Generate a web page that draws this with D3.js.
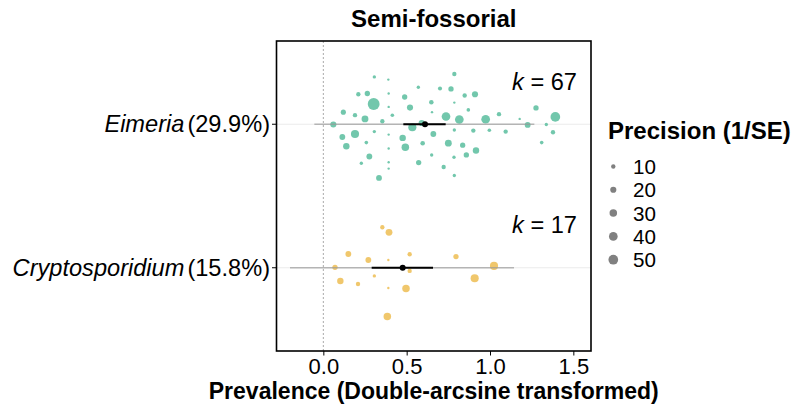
<!DOCTYPE html>
<html><head><meta charset="utf-8">
<script src="https://cdn.jsdelivr.net/npm/d3@7"></script>
<style>body{margin:0;background:#fff} svg{display:block} text{font-family:"Liberation Sans",Arial,sans-serif}</style>
</head><body><svg width="798" height="404"></svg>
<script>
// ---------- data ----------
const groups = ["Eimeria", "Cryptosporidium"];
const groupRow = [2, 1];
const pooledPct = ["29.9%", "15.8%"];
const kValues = [67, 17];
const estimate = [0.61, 0.476];
const ciLow = [0.48, 0.29];
const ciHigh = [0.734, 0.658];
const piLow = [-0.054, -0.2];
const piHigh = [1.266, 1.144];
const groupColors = ["#66c2a5", "#efc25f"];

const eimeriaX = [0.306,0.39,0.786,0.57,0.70,0.766,0.21,0.264,0.392,0.488,0.848,0.91,0.302,0.648,0.786,0.52,0.392,0.12,0.87,0.652,0.19,0.414,0.25,0.354,0.736,0.816,0.974,1.054,1.276,1.392,1.178,0.06,0.534,0.59,1.226,1.338,0.306,0.19,0.114,0.392,0.66,0.786,0.9,0.996,1.094,1.378,0.476,0.258,0.596,0.75,1.31,0.138,0.492,0.392,0.836,0.916,0.276,0.65,0.784,0.858,0.228,0.392,0.572,0.392,0.722,0.334,0.786];
const eimeriaJitter = [0.33,0.311,0.35,0.258,0.249,0.246,0.209,0.214,0.214,0.19,0.2,0.209,0.141,0.153,0.151,0.116,0.121,0.084,0.1,0.084,0.063,0.063,0.037,0.021,0.054,0.033,0.035,0.07,0.114,0.051,0.037,-0.002,-0.021,0.009,-0.005,-0.002,-0.051,-0.068,-0.089,-0.072,-0.068,-0.04,-0.044,-0.042,-0.051,-0.056,-0.095,-0.128,-0.132,-0.132,-0.128,-0.153,-0.16,-0.169,-0.146,-0.183,-0.225,-0.214,-0.23,-0.214,-0.272,-0.265,-0.267,-0.309,-0.298,-0.374,-0.357];
const eimeriaPrecision = [6,3,10,6,9,15,10,15,3,15,10,20,75,11,3,20,3,14,7,3,10,7,25,10,40,40,40,10,15,50,3,20,35,20,18,6,6,35,18,3,18,6,10,7,10,10,22,7,11,25,7,22,30,3,15,22,18,6,6,15,6,3,15,3,10,18,6];

const cryptoX = [0.354,0.394,0.15,0.27,0.39,0.518,0.796,0.07,1.024,0.518,0.102,0.208,0.306,0.39,0.496,0.908,0.384];
const cryptoJitter = [0.282,0.247,0.096,0.054,0.054,0.094,0.078,0.003,0.013,-0.022,-0.092,-0.113,-0.057,-0.141,-0.145,-0.073,-0.34];
const cryptoPrecision = [10,25,18,18,3,10,15,15,35,10,22,10,6,3,30,35,30];

const xTicks = [0, 0.5, 1.0, 1.5];
const legendValues = [10, 20, 30, 40, 50];

// ---------- layout ----------
const svg = d3.select("svg");
const L = 276.5, R = 591, T = 41, B = 351;
const x = d3.scaleLinear().domain([-0.281, 1.606]).range([L, R]);
const y = d3.scaleLinear().domain([0.42, 2.58]).range([B, T]);
const r = d3.scaleSqrt().domain([0, 50]).range([0, 4.85]);
const FS = 23.6, FSB = 24;

svg.append("rect").attr("width", 798).attr("height", 404).attr("fill", "#fff");

const points = [
  eimeriaX.map((v, i) => ({g: 0, x: v, j: eimeriaJitter[i], p: eimeriaPrecision[i]})),
  cryptoX.map((v, i) => ({g: 1, x: v, j: cryptoJitter[i], p: cryptoPrecision[i]}))
].flat();

const plot = svg.append("g");
// faint row lines
plot.selectAll(".rowline").data(groups).join("line")
  .attr("x1", L).attr("x2", R)
  .attr("y1", (d, i) => y(groupRow[i])).attr("y2", (d, i) => y(groupRow[i]))
  .attr("stroke", "#ebebeb").attr("stroke-width", 1);
// zero line
plot.append("line").attr("x1", x(0)).attr("x2", x(0)).attr("y1", T).attr("y2", B)
  .attr("stroke", "#aaaaaa").attr("stroke-width", 1).attr("stroke-dasharray", "2,2");
// dots
plot.selectAll(".dot").data(points).join("circle")
  .attr("cx", d => x(d.x)).attr("cy", d => y(groupRow[d.g] + d.j))
  .attr("r", d => r(d.p))
  .attr("fill", d => groupColors[d.g]).attr("fill-opacity", 0.92);
// prediction intervals
plot.selectAll(".pi").data(groups).join("line")
  .attr("x1", (d, i) => x(piLow[i])).attr("x2", (d, i) => x(piHigh[i]))
  .attr("y1", (d, i) => y(groupRow[i])).attr("y2", (d, i) => y(groupRow[i]))
  .attr("stroke", "#9a9a9a").attr("stroke-opacity", 0.7).attr("stroke-width", 1.5);
// confidence intervals
plot.selectAll(".ci").data(groups).join("line")
  .attr("x1", (d, i) => x(ciLow[i])).attr("x2", (d, i) => x(ciHigh[i]))
  .attr("y1", (d, i) => y(groupRow[i])).attr("y2", (d, i) => y(groupRow[i]))
  .attr("stroke", "#000").attr("stroke-width", 2.2);
plot.selectAll(".est").data(groups).join("circle")
  .attr("cx", (d, i) => x(estimate[i])).attr("cy", (d, i) => y(groupRow[i]))
  .attr("r", 3).attr("fill", "#000");
// k labels
groups.forEach((g, i) => {
  const t = svg.append("text").attr("x", x(1.522)).attr("y", y(groupRow[i] + 0.24))
    .attr("text-anchor", "end").attr("font-size", FS).attr("fill", "#000");
  t.append("tspan").attr("font-style", "italic").text("k");
  t.append("tspan").text(" = " + kValues[i]);
});
// panel border
svg.append("rect").attr("x", L).attr("y", T).attr("width", R - L).attr("height", B - T)
  .attr("fill", "none").attr("stroke", "#000").attr("stroke-width", 1.6);

// x axis
const xAxis = svg.append("g").attr("transform", `translate(0,${B})`)
  .call(d3.axisBottom(x).tickValues(xTicks).tickFormat(d3.format(".1f")).tickSize(4.5).tickPadding(6));
xAxis.select(".domain").remove();
xAxis.selectAll("line").attr("stroke", "#000").attr("stroke-width", 1);
xAxis.selectAll("text").attr("font-size", 22).attr("fill", "#000")
  .attr("font-family", '"Liberation Sans",Arial,sans-serif').attr("dy", 0).attr("y", 22.5);

// y axis labels
groups.forEach((g, i) => {
  const yy = y(groupRow[i]);
  svg.append("line").attr("x1", L - 4.5).attr("x2", L).attr("y1", yy).attr("y2", yy)
    .attr("stroke", "#000").attr("stroke-width", 1);
  const t = svg.append("text").attr("x", 270).attr("y", yy + 8.1)
    .attr("text-anchor", "end").attr("font-size", FS).attr("fill", "#000");
  t.append("tspan").attr("font-style", "italic").text(g);
  t.append("tspan").attr("dx", 3).text("(" + pooledPct[i] + ")");
});

// titles
svg.append("text").attr("x", (L + R) / 2).attr("y", 27).attr("text-anchor", "middle")
  .attr("font-size", FSB).attr("font-weight", "bold").text("Semi-fossorial");
svg.append("text").attr("x", (L + R) / 2).attr("y", 399).attr("text-anchor", "middle")
  .attr("font-size", 23).attr("font-weight", "bold").text("Prevalence (Double-arcsine transformed)");

// legend
const lg = svg.append("g");
lg.append("text").attr("x", 608).attr("y", 139.3).attr("font-size", FSB).attr("font-weight", "bold")
  .text("Precision (1/SE)");
lg.selectAll(".ld").data(legendValues).join("circle")
  .attr("cx", 613.3).attr("cy", (d, i) => 166.5 + i * 23.3).attr("r", d => r(d)).attr("fill", "#808080");
lg.selectAll(".lt").data(legendValues).join("text")
  .attr("x", 633).attr("y", (d, i) => 166.5 + i * 23.3 + 7.4).attr("font-size", 20.6).text(d => d);
</script></body></html>
